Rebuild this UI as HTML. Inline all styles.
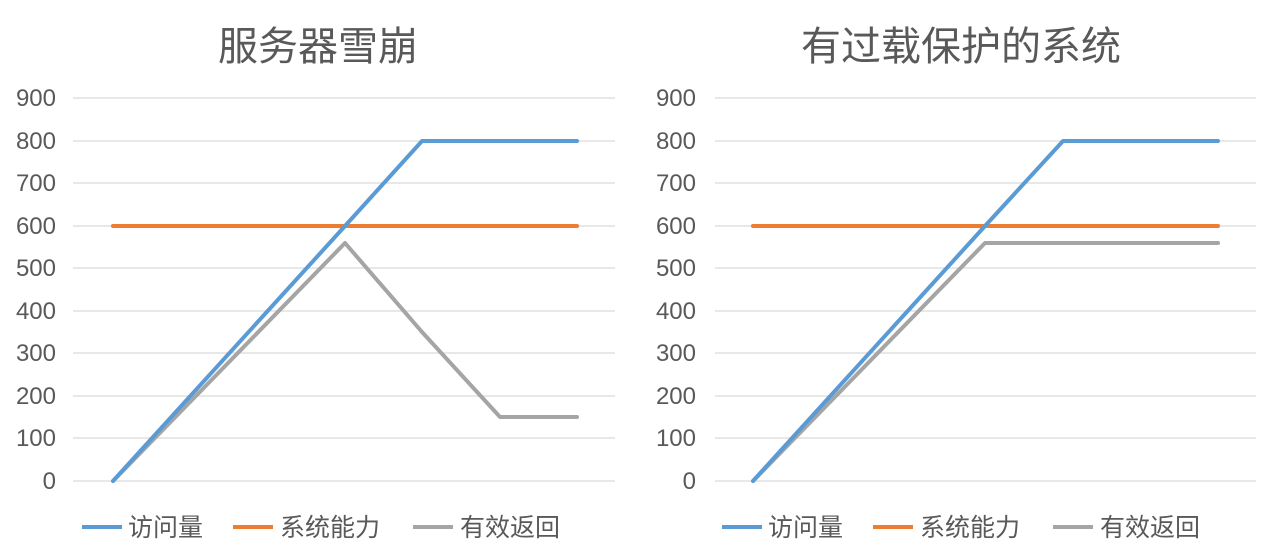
<!DOCTYPE html>
<html><head><meta charset="utf-8"><style>
html,body{margin:0;padding:0;background:#fff;}
svg{display:block;font-family:"Liberation Sans","Noto Sans CJK SC",sans-serif;}
</style></head><body>
<svg width="1280" height="560" viewBox="0 0 1280 560" xmlns="http://www.w3.org/2000/svg">
<g fill="#595959">
<text x="318" y="60" font-size="40" text-anchor="middle">服务器雪崩</text>
<text x="961" y="60" font-size="40" text-anchor="middle">有过载保护的系统</text>
</g>
<g stroke="#d9d9d9" stroke-width="1.3">
<line x1="73" x2="615" y1="98" y2="98"/><line x1="73" x2="615" y1="141" y2="141"/><line x1="73" x2="615" y1="183" y2="183"/><line x1="73" x2="615" y1="226" y2="226"/><line x1="73" x2="615" y1="268" y2="268"/><line x1="73" x2="615" y1="311" y2="311"/><line x1="73" x2="615" y1="353" y2="353"/><line x1="73" x2="615" y1="396" y2="396"/><line x1="73" x2="615" y1="438" y2="438"/><line x1="73" x2="615" y1="481" y2="481"/>
<line x1="715" x2="1256" y1="98" y2="98"/><line x1="715" x2="1256" y1="141" y2="141"/><line x1="715" x2="1256" y1="183" y2="183"/><line x1="715" x2="1256" y1="226" y2="226"/><line x1="715" x2="1256" y1="268" y2="268"/><line x1="715" x2="1256" y1="311" y2="311"/><line x1="715" x2="1256" y1="353" y2="353"/><line x1="715" x2="1256" y1="396" y2="396"/><line x1="715" x2="1256" y1="438" y2="438"/><line x1="715" x2="1256" y1="481" y2="481"/>
</g>
<g fill="#595959" font-size="24" text-anchor="end">
<text x="56" y="106">900</text><text x="56" y="149">800</text><text x="56" y="191">700</text><text x="56" y="234">600</text><text x="56" y="276">500</text><text x="56" y="319">400</text><text x="56" y="361">300</text><text x="56" y="404">200</text><text x="56" y="446">100</text><text x="56" y="489">0</text>
<text x="696" y="106">900</text><text x="696" y="149">800</text><text x="696" y="191">700</text><text x="696" y="234">600</text><text x="696" y="276">500</text><text x="696" y="319">400</text><text x="696" y="361">300</text><text x="696" y="404">200</text><text x="696" y="446">100</text><text x="696" y="489">0</text>
</g>
<g fill="none" stroke-width="4" stroke-linejoin="round" stroke-linecap="round">
<polyline stroke="#ed7d31" points="113,226 577,226"/>
<polyline stroke="#a5a5a5" points="113,481 345,243 422,332 500,417 577,417"/>
<polyline stroke="#5b9bd5" points="113,481 345,226 422,141 577,141"/>
<polyline stroke="#ed7d31" points="753,226 1218,226"/>
<polyline stroke="#a5a5a5" points="753,481 985,243 1218,243"/>
<polyline stroke="#5b9bd5" points="753,481 985,226 1063,141 1218,141"/>
</g>
<g stroke-width="4">
<line x1="82" x2="122" y1="527" y2="527" stroke="#5b9bd5"/>
<line x1="233" x2="273" y1="527" y2="527" stroke="#ed7d31"/>
<line x1="413" x2="453" y1="527" y2="527" stroke="#a5a5a5"/>
<line x1="722" x2="762" y1="527" y2="527" stroke="#5b9bd5"/>
<line x1="873" x2="913" y1="527" y2="527" stroke="#ed7d31"/>
<line x1="1053" x2="1093" y1="527" y2="527" stroke="#a5a5a5"/>
</g>
<g fill="#595959" font-size="25">
<text x="128" y="536">访问量</text><text x="280" y="536">系统能力</text><text x="460" y="536">有效返回</text>
<text x="768" y="536">访问量</text><text x="920" y="536">系统能力</text><text x="1100" y="536">有效返回</text>
</g>
</svg>
</body></html>
